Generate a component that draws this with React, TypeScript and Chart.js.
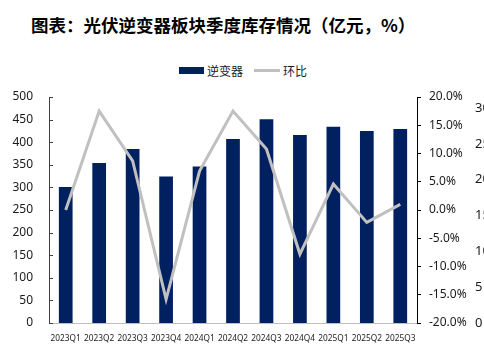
import React, { useEffect, useRef } from "react";
import { Chart, registerables } from "chart.js";

Chart.register(...registerables);

const categories = ["2023Q1", "2023Q2", "2023Q3", "2023Q4", "2024Q1", "2024Q2", "2024Q3", "2024Q4", "2025Q1", "2025Q2", "2025Q3"];
const inverterValues = [301, 354, 385, 324, 346, 407, 451, 416, 434, 425, 429];
const qoqValues = [0.0, 17.5, 8.7, -15.8, 6.9, 17.5, 10.8, -7.8, 4.6, -2.2, 1.0];
const ghostTickLabels = ["30", "25", "20", "15", "10", "5", "0"];

const FONT = "'Noto Sans', 'Noto Sans CJK SC', sans-serif";
const CJK = "'Noto Sans CJK SC', 'Noto Sans', sans-serif";

const extrasPlugin = {
  id: "extras",
  afterDraw(chart: any) {
    const { ctx, chartArea, scales } = chart;
    const y = scales.y;
    ctx.save();
    ctx.strokeStyle = "#404040";
    ctx.lineWidth = 1;
    y.ticks.forEach((t: any) => {
      const py = Math.round(y.getPixelForValue(t.value)) + 0.5;
      ctx.beginPath();
      ctx.moveTo(chartArea.left, py);
      ctx.lineTo(chartArea.left + 4, py);
      ctx.stroke();
    });
    ctx.fillStyle = "#1a1a1a";
    ctx.font = `13px ${FONT}`;
    ctx.textAlign = "left";
    ctx.textBaseline = "middle";
    const top = chartArea.top + 11;
    const bottom = chartArea.bottom;
    ghostTickLabels.forEach((lab, i) => {
      const py = top + (i / (ghostTickLabels.length - 1)) * (bottom - top);
      ctx.fillText(lab, 475, py);
    });
    ctx.restore();
  },
};

export default function App() {
  const ref = useRef<HTMLCanvasElement>(null);
  useEffect(() => {
    if (!ref.current) return;
    const chart = new Chart(ref.current, {
      type: "bar",
      data: {
        labels: categories,
        datasets: [
          {
            type: "line",
            label: "环比",
            data: qoqValues,
            yAxisID: "y1",
            borderColor: "#C0C0C0",
            backgroundColor: "#C0C0C0",
            borderWidth: 3,
            pointRadius: 0,
            tension: 0,
            order: 0,
          } as any,
          {
            type: "bar",
            label: "逆变器",
            data: inverterValues,
            yAxisID: "y",
            backgroundColor: "#002060",
            barPercentage: 0.41,
            categoryPercentage: 1,
            order: 1,
          },
        ],
      },
      options: {
        responsive: false,
        animation: false,
        devicePixelRatio: 1,
        layout: { padding: { top: 97, left: 0, right: 0, bottom: 0 } },
        plugins: { legend: { display: false }, title: { display: false }, tooltip: { enabled: false } },
        scales: {
          x: {
            grid: { display: false },
            border: { display: true, color: "#BFBFBF", width: 1 },
            ticks: { color: "#1a1a1a", font: { size: 8.3, family: FONT }, padding: 3, maxRotation: 0, autoSkip: false },
            afterFit: (s: any) => { s.height = 31; },
          },
          y: {
            position: "left",
            min: 0,
            max: 500,
            grid: { display: false },
            border: { display: true, color: "#404040", width: 1 },
            ticks: { stepSize: 50, color: "#1a1a1a", font: { size: 12, family: FONT }, padding: 8 },
            afterFit: (s: any) => { s.width = 49; },
          },
          y1: {
            position: "right",
            min: -20,
            max: 20,
            grid: { display: true, drawOnChartArea: false, drawTicks: true, tickLength: 4, color: "#000" },
            border: { display: true, color: "#000", width: 1 },
            ticks: { stepSize: 5, color: "#1a1a1a", font: { size: 12, family: FONT }, padding: 8, callback: (v: any) => Number(v).toFixed(1) + "%" },
            afterFit: (s: any) => { s.width = 67; },
          },
        },
      },
      plugins: [extrasPlugin],
    });
    return () => chart.destroy();
  }, []);

  return (
    <div style={{ position: "fixed", left: 0, top: 0, width: 484, height: 354, background: "#fff", overflow: "hidden" }}>
      <div style={{ position: "absolute", left: 31, top: 14, fontFamily: CJK, fontWeight: 700, fontSize: 17.5, lineHeight: "22px", color: "#000", whiteSpace: "nowrap" }}>
        图表：光伏逆变器板块季度库存情况（亿元，%）
      </div>
      <div style={{ position: "absolute", left: 179, top: 61, height: 18, display: "flex", alignItems: "center", fontFamily: CJK, fontSize: 12, color: "#1a1a1a", whiteSpace: "nowrap" }}>
        <span style={{ display: "inline-block", width: 25, height: 7, background: "#002060", marginRight: 3 }} />
        <span>逆变器</span>
        <span style={{ display: "inline-block", width: 26, height: 3, background: "#C0C0C0", marginLeft: 11, marginRight: 3 }} />
        <span>环比</span>
      </div>
      <canvas ref={ref} width={484} height={354} style={{ position: "absolute", left: 0, top: 0, width: 484, height: 354 }} />
    </div>
  );
}
